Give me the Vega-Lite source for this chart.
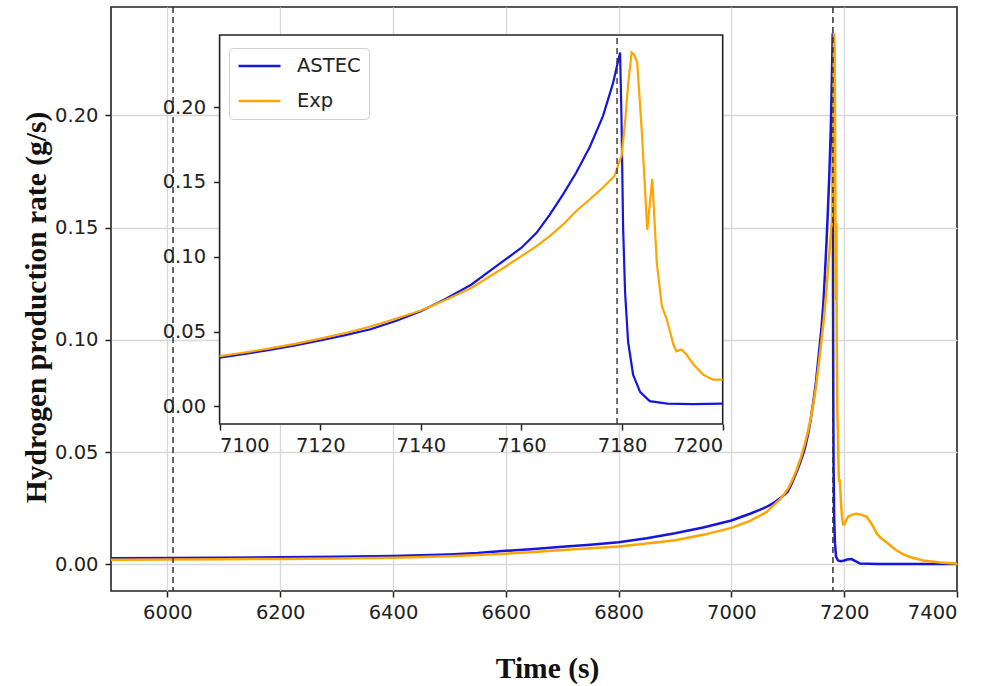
{
  "$schema": "https://vega.github.io/schema/vega-lite/v6.json",
  "width": 846,
  "height": 584,
  "autosize": {"type": "none"},
  "padding": {"left": 111, "top": 7, "right": 29, "bottom": 95},
  "background": "white",
  "config": {
    "view": {"stroke": "#222222", "strokeWidth": 1.6},
    "axis": {
      "labelFont": "DejaVu Sans",
      "labelColor": "#222222",
      "tickColor": "#222222",
      "tickWidth": 1.5,
      "tickSize": 6,
      "domain": false,
      "grid": true,
      "gridWidth": 1.3,
      "titleFont": "Liberation Serif",
      "titleFontWeight": "bold",
      "titleColor": "#111111"
    }
  },
  "datasets": {
    "curves": [
      {"t": 5900, "v": 0.0028, "s": "ASTEC"},
      {"t": 6000, "v": 0.0029, "s": "ASTEC"},
      {"t": 6100, "v": 0.0030, "s": "ASTEC"},
      {"t": 6200, "v": 0.0032, "s": "ASTEC"},
      {"t": 6300, "v": 0.0034, "s": "ASTEC"},
      {"t": 6400, "v": 0.0038, "s": "ASTEC"},
      {"t": 6450, "v": 0.0041, "s": "ASTEC"},
      {"t": 6500, "v": 0.0045, "s": "ASTEC"},
      {"t": 6550, "v": 0.0051, "s": "ASTEC"},
      {"t": 6600, "v": 0.0061, "s": "ASTEC"},
      {"t": 6650, "v": 0.0069, "s": "ASTEC"},
      {"t": 6700, "v": 0.0079, "s": "ASTEC"},
      {"t": 6750, "v": 0.0088, "s": "ASTEC"},
      {"t": 6800, "v": 0.0099, "s": "ASTEC"},
      {"t": 6850, "v": 0.0117, "s": "ASTEC"},
      {"t": 6900, "v": 0.0139, "s": "ASTEC"},
      {"t": 6950, "v": 0.0165, "s": "ASTEC"},
      {"t": 7000, "v": 0.0196, "s": "ASTEC"},
      {"t": 7033, "v": 0.0226, "s": "ASTEC"},
      {"t": 7050, "v": 0.0243, "s": "ASTEC"},
      {"t": 7062, "v": 0.0256, "s": "ASTEC"},
      {"t": 7075, "v": 0.0274, "s": "ASTEC"},
      {"t": 7086, "v": 0.0295, "s": "ASTEC"},
      {"t": 7095, "v": 0.0312, "s": "ASTEC"},
      {"t": 7100, "v": 0.0325, "s": "ASTEC"},
      {"t": 7105, "v": 0.0350, "s": "ASTEC"},
      {"t": 7110, "v": 0.0378, "s": "ASTEC"},
      {"t": 7115, "v": 0.0408, "s": "ASTEC"},
      {"t": 7120, "v": 0.0440, "s": "ASTEC"},
      {"t": 7125, "v": 0.0476, "s": "ASTEC"},
      {"t": 7130, "v": 0.0515, "s": "ASTEC"},
      {"t": 7135, "v": 0.0570, "s": "ASTEC"},
      {"t": 7140, "v": 0.0636, "s": "ASTEC"},
      {"t": 7145, "v": 0.0720, "s": "ASTEC"},
      {"t": 7150, "v": 0.0813, "s": "ASTEC"},
      {"t": 7155, "v": 0.0937, "s": "ASTEC"},
      {"t": 7160, "v": 0.1060, "s": "ASTEC"},
      {"t": 7163, "v": 0.1160, "s": "ASTEC"},
      {"t": 7165.6, "v": 0.1280, "s": "ASTEC"},
      {"t": 7168.3, "v": 0.1418, "s": "ASTEC"},
      {"t": 7170.9, "v": 0.1563, "s": "ASTEC"},
      {"t": 7173.6, "v": 0.1735, "s": "ASTEC"},
      {"t": 7176.2, "v": 0.1940, "s": "ASTEC"},
      {"t": 7178.2, "v": 0.2160, "s": "ASTEC"},
      {"t": 7179.6, "v": 0.2365, "s": "ASTEC"},
      {"t": 7179.9, "v": 0.190, "s": "ASTEC"},
      {"t": 7180.2, "v": 0.120, "s": "ASTEC"},
      {"t": 7180.6, "v": 0.076, "s": "ASTEC"},
      {"t": 7181.2, "v": 0.043, "s": "ASTEC"},
      {"t": 7182.2, "v": 0.021, "s": "ASTEC"},
      {"t": 7183.6, "v": 0.0095, "s": "ASTEC"},
      {"t": 7185.5, "v": 0.0035, "s": "ASTEC"},
      {"t": 7189, "v": 0.0018, "s": "ASTEC"},
      {"t": 7194, "v": 0.0015, "s": "ASTEC"},
      {"t": 7200, "v": 0.0018, "s": "ASTEC"},
      {"t": 7205, "v": 0.0022, "s": "ASTEC"},
      {"t": 7213, "v": 0.0024, "s": "ASTEC"},
      {"t": 7220, "v": 0.0015, "s": "ASTEC"},
      {"t": 7228, "v": 0.0004, "s": "ASTEC"},
      {"t": 7260, "v": 0.0002, "s": "ASTEC"},
      {"t": 7300, "v": 0.0002, "s": "ASTEC"},
      {"t": 7400, "v": 0.0002, "s": "ASTEC"},
      {"t": 5900, "v": 0.0021, "s": "Exp"},
      {"t": 6000, "v": 0.0022, "s": "Exp"},
      {"t": 6100, "v": 0.0023, "s": "Exp"},
      {"t": 6200, "v": 0.0025, "s": "Exp"},
      {"t": 6300, "v": 0.0027, "s": "Exp"},
      {"t": 6400, "v": 0.0030, "s": "Exp"},
      {"t": 6450, "v": 0.0033, "s": "Exp"},
      {"t": 6500, "v": 0.0037, "s": "Exp"},
      {"t": 6550, "v": 0.0042, "s": "Exp"},
      {"t": 6600, "v": 0.0048, "s": "Exp"},
      {"t": 6650, "v": 0.0056, "s": "Exp"},
      {"t": 6700, "v": 0.0064, "s": "Exp"},
      {"t": 6750, "v": 0.0072, "s": "Exp"},
      {"t": 6800, "v": 0.0080, "s": "Exp"},
      {"t": 6850, "v": 0.0093, "s": "Exp"},
      {"t": 6900, "v": 0.0108, "s": "Exp"},
      {"t": 6950, "v": 0.0132, "s": "Exp"},
      {"t": 7000, "v": 0.0163, "s": "Exp"},
      {"t": 7033, "v": 0.0194, "s": "Exp"},
      {"t": 7062, "v": 0.0233, "s": "Exp"},
      {"t": 7086, "v": 0.0290, "s": "Exp"},
      {"t": 7095, "v": 0.0318, "s": "Exp"},
      {"t": 7100, "v": 0.0336, "s": "Exp"},
      {"t": 7105, "v": 0.0360, "s": "Exp"},
      {"t": 7110, "v": 0.0387, "s": "Exp"},
      {"t": 7115, "v": 0.0418, "s": "Exp"},
      {"t": 7120, "v": 0.0453, "s": "Exp"},
      {"t": 7125, "v": 0.0490, "s": "Exp"},
      {"t": 7130, "v": 0.0534, "s": "Exp"},
      {"t": 7135, "v": 0.0585, "s": "Exp"},
      {"t": 7140, "v": 0.0641, "s": "Exp"},
      {"t": 7145, "v": 0.0712, "s": "Exp"},
      {"t": 7150, "v": 0.0791, "s": "Exp"},
      {"t": 7156.4, "v": 0.0925, "s": "Exp"},
      {"t": 7160, "v": 0.1004, "s": "Exp"},
      {"t": 7163, "v": 0.1071, "s": "Exp"},
      {"t": 7165.6, "v": 0.1138, "s": "Exp"},
      {"t": 7168.3, "v": 0.1216, "s": "Exp"},
      {"t": 7170.9, "v": 0.1306, "s": "Exp"},
      {"t": 7173.6, "v": 0.1384, "s": "Exp"},
      {"t": 7176.2, "v": 0.1463, "s": "Exp"},
      {"t": 7178.5, "v": 0.1540, "s": "Exp"},
      {"t": 7179.2, "v": 0.1610, "s": "Exp"},
      {"t": 7179.9, "v": 0.1675, "s": "Exp"},
      {"t": 7180.6, "v": 0.1900, "s": "Exp"},
      {"t": 7181.2, "v": 0.2150, "s": "Exp"},
      {"t": 7181.9, "v": 0.2365, "s": "Exp"},
      {"t": 7182.4, "v": 0.2350, "s": "Exp"},
      {"t": 7183.0, "v": 0.2300, "s": "Exp"},
      {"t": 7183.9, "v": 0.1850, "s": "Exp"},
      {"t": 7185.0, "v": 0.1180, "s": "Exp"},
      {"t": 7186.0, "v": 0.1520, "s": "Exp"},
      {"t": 7186.9, "v": 0.0960, "s": "Exp"},
      {"t": 7187.9, "v": 0.0670, "s": "Exp"},
      {"t": 7188.9, "v": 0.0580, "s": "Exp"},
      {"t": 7190.2, "v": 0.0413, "s": "Exp"},
      {"t": 7190.8, "v": 0.0368, "s": "Exp"},
      {"t": 7191.8, "v": 0.0380, "s": "Exp"},
      {"t": 7192.8, "v": 0.0346, "s": "Exp"},
      {"t": 7194.2, "v": 0.0279, "s": "Exp"},
      {"t": 7196.1, "v": 0.0212, "s": "Exp"},
      {"t": 7198.1, "v": 0.0178, "s": "Exp"},
      {"t": 7200, "v": 0.0178, "s": "Exp"},
      {"t": 7207, "v": 0.0214, "s": "Exp"},
      {"t": 7215, "v": 0.0222, "s": "Exp"},
      {"t": 7222, "v": 0.0226, "s": "Exp"},
      {"t": 7230, "v": 0.0222, "s": "Exp"},
      {"t": 7240, "v": 0.0212, "s": "Exp"},
      {"t": 7250, "v": 0.0175, "s": "Exp"},
      {"t": 7258, "v": 0.0137, "s": "Exp"},
      {"t": 7265, "v": 0.0118, "s": "Exp"},
      {"t": 7275, "v": 0.0099, "s": "Exp"},
      {"t": 7285, "v": 0.0078, "s": "Exp"},
      {"t": 7293, "v": 0.0062, "s": "Exp"},
      {"t": 7305, "v": 0.0045, "s": "Exp"},
      {"t": 7317, "v": 0.0033, "s": "Exp"},
      {"t": 7340, "v": 0.0018, "s": "Exp"},
      {"t": 7370, "v": 0.0009, "s": "Exp"},
      {"t": 7400, "v": 0.0003, "s": "Exp"}
    ]
  },
  "layer": [
    {
      "layer": [
        {
          "data": {"name": "curves"},
          "mark": {"type": "line", "strokeWidth": 2.5},
          "encoding": {
            "x": {
              "field": "t", "type": "quantitative",
              "scale": {"domain": [5900, 7400], "nice": false, "zero": false},
              "axis": {
                "values": [6000, 6200, 6400, 6600, 6800, 7000, 7200, 7400],
                "format": "d",
                "labelFontSize": 19.5,
                "labelPadding": 6,
                "gridColor": {"condition": {"test": "datum.value == 7400", "value": "rgba(0,0,0,0)"}, "value": "#d8d8d8"},
                "title": "Time (s)",
                "titleFontSize": 29.5,
                "titleX": 436,
                "titleY": 86,
                "titleAlign": "center",
                "titleBaseline": "alphabetic"
              }
            },
            "y": {
              "field": "v", "type": "quantitative",
              "scale": {"domain": [-0.0118, 0.2482], "nice": false, "zero": false},
              "axis": {
                "values": [0, 0.05, 0.1, 0.15, 0.2],
                "format": ".2f",
                "labelFontSize": 19.5,
                "labelPadding": 7,
                "gridColor": "#d8d8d8",
                "title": "Hydrogen production rate (g/s)",
                "titleFontSize": 29.5,
                "titleX": -66,
                "titleY": 300,
                "titleAngle": 270,
                "titleAlign": "center",
                "titleBaseline": "alphabetic"
              }
            },
            "color": {
              "field": "s", "type": "nominal",
              "scale": {"domain": ["ASTEC", "Exp"], "range": ["#1616dc", "#FFA500"]},
              "legend": {
                "title": null,
                "orient": "none",
                "legendX": 118,
                "legendY": 41,
                "zindex": 3,
                "labelFont": "DejaVu Sans",
                "labelFontSize": 19.5,
                "labelColor": "#222222",
                "symbolType": "stroke",
                "symbolSize": 1764,
                "symbolStrokeWidth": 2.5,
                "clipHeight": 20,
                "rowPadding": 15,
                "labelOffset": 15,
                "padding": 8,
                "strokeColor": "#cfcfcf",
                "cornerRadius": 4,
                "fillColor": "white"
              }
            }
          }
        },
        {
          "data": {"values": [{"t": 6010}, {"t": 7180}]},
          "mark": {"type": "rule", "color": "#333333", "strokeWidth": 1.5, "strokeDash": [6, 4]},
          "encoding": {"x": {"field": "t", "type": "quantitative"}}
        }
      ]
    },
    {
      "layer": [
        {
          "data": {"values": [{"a": 7100, "b": 7200, "lo": -0.0118, "hi": 0.2482}]},
          "mark": {"type": "rect", "fill": "white", "stroke": "#222222", "strokeWidth": 1.6},
          "encoding": {
            "x": {
              "field": "a", "type": "quantitative",
              "scale": {"domain": [7100, 7200], "nice": false, "zero": false, "range": [108.6, 611.7]},
              "axis": {
                "orient": "bottom",
                "offset": -167,
                "zindex": 1,
                "values": [7100, 7120, 7140, 7160, 7180, 7200],
                "format": "d",
                "labelFontSize": 19.5,
                "labelPadding": 6,
                "gridColor": {"condition": {"test": "datum.value == 7100 || datum.value == 7200", "value": "rgba(0,0,0,0)"}, "value": "#d8d8d8"},
                "title": null
              }
            },
            "x2": {"field": "b"},
            "y": {
              "field": "lo", "type": "quantitative",
              "scale": {"domain": [-0.0118, 0.2482], "nice": false, "zero": false, "range": [417, 28]},
              "axis": {
                "orient": "left",
                "offset": -108.6,
                "zindex": 1,
                "values": [0, 0.05, 0.1, 0.15, 0.2],
                "format": ".2f",
                "labelFontSize": 19.5,
                "labelPadding": 8,
                "gridColor": "#d8d8d8",
                "title": null
              }
            },
            "y2": {"field": "hi"}
          }
        },
        {
          "data": {"name": "curves"},
          "transform": [{"filter": "datum.t >= 7100 && datum.t <= 7200"}],
          "mark": {"type": "line", "strokeWidth": 2.2},
          "encoding": {
            "x": {"field": "t", "type": "quantitative"},
            "y": {"field": "v", "type": "quantitative"},
            "color": {"field": "s", "type": "nominal"}
          }
        },
        {
          "data": {"values": [{"t": 7179, "lo": -0.0118, "hi": 0.2482}]},
          "mark": {"type": "rule", "color": "#333333", "strokeWidth": 1.4, "strokeDash": [6, 4]},
          "encoding": {
            "x": {"field": "t", "type": "quantitative"},
            "y": {"field": "lo", "type": "quantitative"},
            "y2": {"field": "hi"}
          }
        }
      ]
    }
  ],
  "resolve": {"scale": {"x": "independent", "y": "independent"}}
}
